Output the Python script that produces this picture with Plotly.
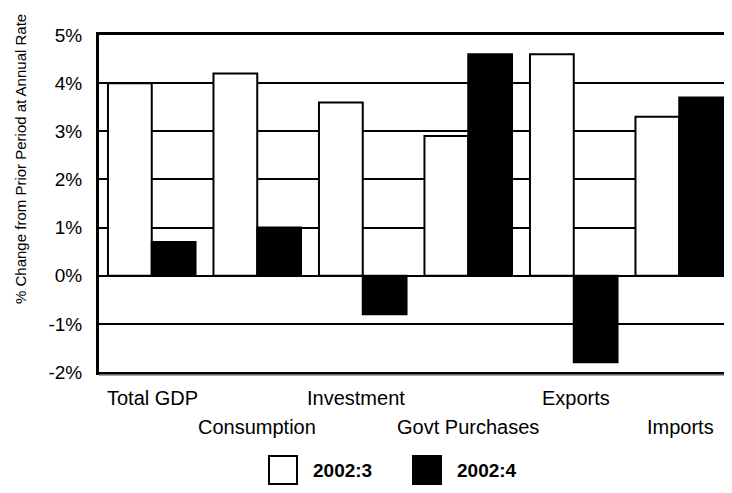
import plotly.graph_objects as go

categories = ["Total GDP", "Consumption", "Investment", "Govt Purchases", "Exports", "Imports"]
q3_values = [4.0, 4.2, 3.6, 2.9, 4.6, 3.3]
q4_values = [0.7, 1.0, -0.8, 4.6, -1.8, 3.7]
series_names = ["2002:3", "2002:4"]
y_ticks = [-2, -1, 0, 1, 2, 3, 4, 5]
y_title = "% Change from Prior Period at Annual Rate"

OFF = 8  # page body margin
W, H = 732 - OFF, 493 - OFF
L, R, T, B = 99 - OFF, 0, 35 - OFF, 493 - 372
pw, ph = W - L - R, H - T - B

def px_x(x):
    return (x - OFF - L) / pw

def px_y(y):
    return (T + ph - (y - OFF)) / ph

FONT = "Arial, Liberation Sans, sans-serif"

fig = go.Figure()
fig.add_trace(go.Bar(x=categories, y=q3_values, name=series_names[0],
                     marker=dict(color="white", line=dict(color="black", width=2))))
fig.add_trace(go.Bar(x=categories, y=q4_values, name=series_names[1],
                     marker=dict(color="black", line=dict(color="black", width=2))))

label_shift = [1, 0, -7, 0, 2, 1]
annotations = []
for i, c in enumerate(categories):
    row_y = 398 if i % 2 == 0 else 427
    annotations.append(dict(x=c, xref="x", y=px_y(row_y), yref="paper", text=c,
                            showarrow=False, xanchor="center", yanchor="middle",
                            xshift=label_shift[i],
                            font=dict(size=20, color="black", family=FONT)))

# y-axis title
annotations.append(dict(x=px_x(20), xref="paper", y=px_y(159), yref="paper", text=y_title,
                        textangle=-90, showarrow=False, xanchor="center", yanchor="middle",
                        font=dict(size=15, color="black", family=FONT)))

# legend
shapes = []
leg = [(269, "white", 311), (413, "black", 455)]
for (x0, col, tx), name in zip(leg, series_names):
    shapes.append(dict(type="rect", xref="paper", yref="paper",
                       x0=px_x(x0), x1=px_x(x0 + 28), y0=px_y(484), y1=px_y(456),
                       fillcolor=col, line=dict(color="black", width=2)))
    annotations.append(dict(x=px_x(tx), xref="paper", y=px_y(470), yref="paper", text="<b>%s</b>" % name,
                            showarrow=False, xanchor="left", yanchor="middle",
                            font=dict(size=19, color="black", family=FONT)))

# grey shadow line under the bottom axis
shapes.append(dict(type="line", xref="paper", yref="paper", x0=0, x1=1,
                   y0=px_y(375), y1=px_y(375), line=dict(color="#888888", width=1.5)))

fig.update_layout(
    width=W, height=H,
    margin=dict(l=L, r=R, t=T, b=B, autoexpand=False),
    paper_bgcolor="white", plot_bgcolor="white",
    barmode="group", bargap=0.17, bargroupgap=0,
    showlegend=False,
    font=dict(family=FONT, color="black"),
    annotations=annotations, shapes=shapes,
)
fig.update_xaxes(showticklabels=False, showgrid=False, showline=True, linecolor="black",
                 linewidth=3, mirror=True, ticks="")
fig.update_yaxes(range=[-2, 5], tickvals=y_ticks, ticktext=["%d%%" % v for v in y_ticks],
                 showgrid=True, gridcolor="black", gridwidth=2, zeroline=False,
                 showline=True, linecolor="black", linewidth=3, ticks="",
                 ticklabelstandoff=10, tickfont=dict(size=19, color="black", family=FONT))

fig.write_html("out.html")
